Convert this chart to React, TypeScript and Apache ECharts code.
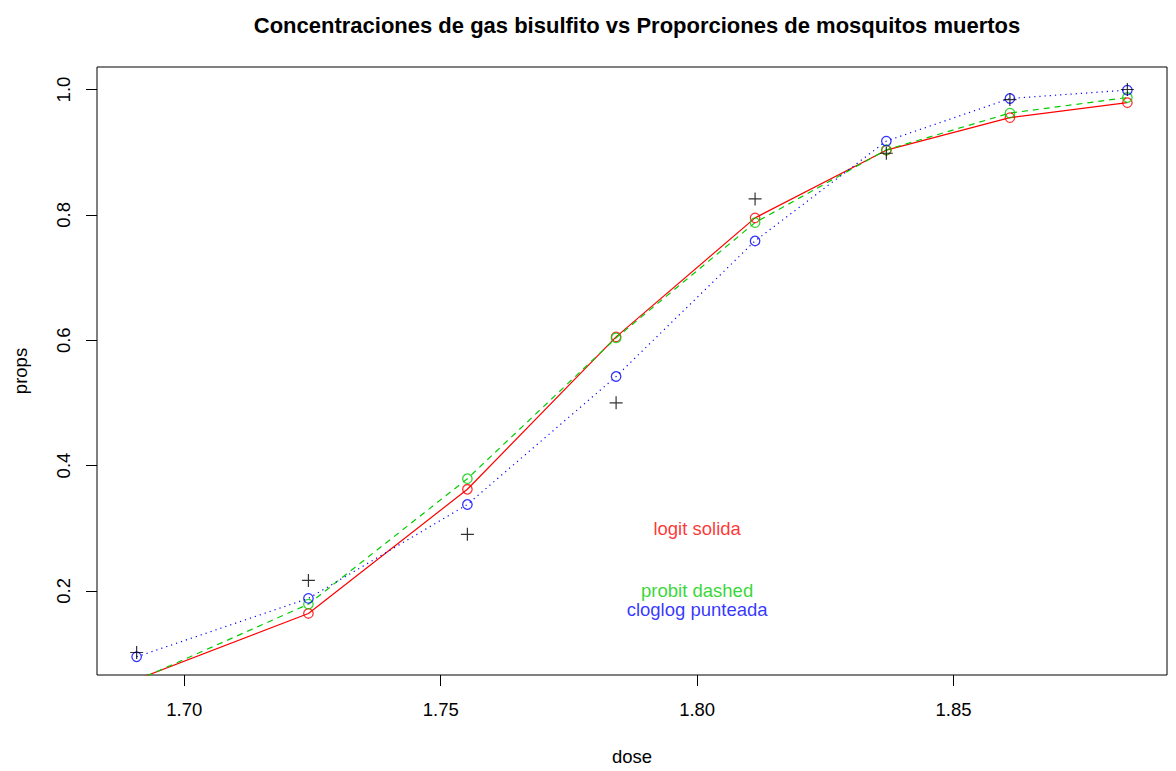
import React, { useEffect, useRef } from "react";
import * as echarts from "echarts";

const dose = [1.6907, 1.7242, 1.7552, 1.7842, 1.8113, 1.8369, 1.861, 1.8839];
const observed = [0.1017, 0.2167, 0.2903, 0.5, 0.8254, 0.8983, 0.9839, 1.0];
const logitFit = [0.0586, 0.164, 0.3621, 0.6053, 0.7952, 0.9032, 0.9552, 0.979];
const probitFit = [0.0569, 0.1788, 0.379, 0.6037, 0.7876, 0.9038, 0.9624, 0.9872];
const cloglogFit = [0.0948, 0.188, 0.3378, 0.5421, 0.7584, 0.9177, 0.9857, 0.9991];

const xTicks = [1.7, 1.75, 1.8, 1.85];
const yTicks = [0.2, 0.4, 0.6, 0.8, 1.0];

const annotations = [
  { text: "logit solida", x: 1.8, y: 0.3, color: "#FF0000" },
  { text: "probit dashed", x: 1.8, y: 0.2, color: "#00CD00" },
  { text: "cloglog punteada", x: 1.8, y: 0.17, color: "#0000FF" },
];

const FONT = "'Liberation Sans', Arial, Helvetica, sans-serif";
const pairs = (ys: number[]) => dose.map((d, i) => [d, ys[i]]);

export default function App() {
  const ref = useRef<HTMLDivElement>(null);
  useEffect(() => {
    document.body.style.margin = "0";
    const chart = echarts.init(ref.current!, null, { renderer: "svg" });
    const hollow = (color: string) => ({
      type: "scatter",
      symbol: "circle",
      symbolSize: 9.5,
      itemStyle: { color: "none", borderColor: color, borderWidth: 1.3 },
      z: 3,
    });
    chart.setOption({
      animation: false,
      backgroundColor: "#fff",
      textStyle: { fontFamily: FONT },
      title: {
        text: "Concentraciones de gas bisulfito vs Proporciones de mosquitos muertos",
        left: 632,
        top: 9,
        textAlign: "center",
        textStyle: { fontFamily: FONT, fontSize: 22, fontWeight: "bold", color: "#000" },
      },
      grid: {
        left: 97,
        top: 67,
        width: 1070,
        height: 609,
        show: true,
        borderColor: "#000",
        borderWidth: 1,
        backgroundColor: "transparent",
      },
      xAxis: {
        type: "value",
        min: 1.682972,
        max: 1.891628,
        name: "dose",
        nameLocation: "middle",
        nameGap: 72,
        nameTextStyle: { fontFamily: FONT, fontSize: 18.5, color: "#000" },
        axisLine: { show: false },
        splitLine: { show: false },
        axisTick: {
          show: true,
          length: 11,
          customValues: xTicks,
          lineStyle: { color: "#000", width: 1 },
        },
        axisLabel: {
          customValues: xTicks,
          formatter: (v: number) => v.toFixed(2),
          margin: 25,
          fontFamily: FONT,
          fontSize: 18.5,
          color: "#000",
        },
      },
      yAxis: {
        type: "value",
        min: 0.065763,
        max: 1.035932,
        name: "props",
        nameLocation: "middle",
        nameGap: 67,
        nameTextStyle: { fontFamily: FONT, fontSize: 18.5, color: "#000" },
        axisLine: { show: false },
        splitLine: { show: false },
        axisTick: {
          show: true,
          length: 11,
          customValues: yTicks,
          lineStyle: { color: "#000", width: 1 },
        },
        axisLabel: {
          customValues: yTicks,
          formatter: (v: number) => v.toFixed(1),
          rotate: 90,
          margin: 24,
          fontFamily: FONT,
          fontSize: 18.5,
          color: "#000",
        },
      },
      series: [
        {
          type: "line",
          data: pairs(logitFit),
          showSymbol: false,
          lineStyle: { color: "#FF0000", width: 1.2, type: "solid" },
          clip: true,
          z: 2,
        },
        {
          type: "line",
          data: pairs(probitFit),
          showSymbol: false,
          lineStyle: { color: "#00CD00", width: 1.2, type: [6, 5] },
          clip: true,
          z: 2,
        },
        {
          type: "line",
          data: pairs(cloglogFit),
          showSymbol: false,
          lineStyle: { color: "#0000FF", width: 1.2, type: [1.2, 4] },
          clip: true,
          z: 2,
        },
        { ...hollow("#FF0000"), data: pairs(logitFit), clip: true },
        { ...hollow("#00CD00"), data: pairs(probitFit), clip: true },
        { ...hollow("#0000FF"), data: pairs(cloglogFit), clip: true },
        {
          type: "scatter",
          data: pairs(observed),
          symbol: "path://M0,6.5H13M6.5,0V13",
          symbolSize: 13,
          itemStyle: { color: "none", borderColor: "#000", borderWidth: 1.2 },
          clip: true,
          z: 4,
        },
        {
          type: "scatter",
          symbolSize: 0,
          silent: true,
          data: annotations.map((a) => ({
            value: [a.x, a.y],
            label: {
              show: true,
              position: "inside",
              formatter: a.text,
              color: a.color,
              fontFamily: FONT,
              fontSize: 18.5,
            },
          })),
          z: 5,
        },
      ],
    });
    return () => chart.dispose();
  }, []);
  return (
    <div
      ref={ref}
      style={{ position: "absolute", left: 0, top: 0, width: 1176, height: 771 }}
    />
  );
}
